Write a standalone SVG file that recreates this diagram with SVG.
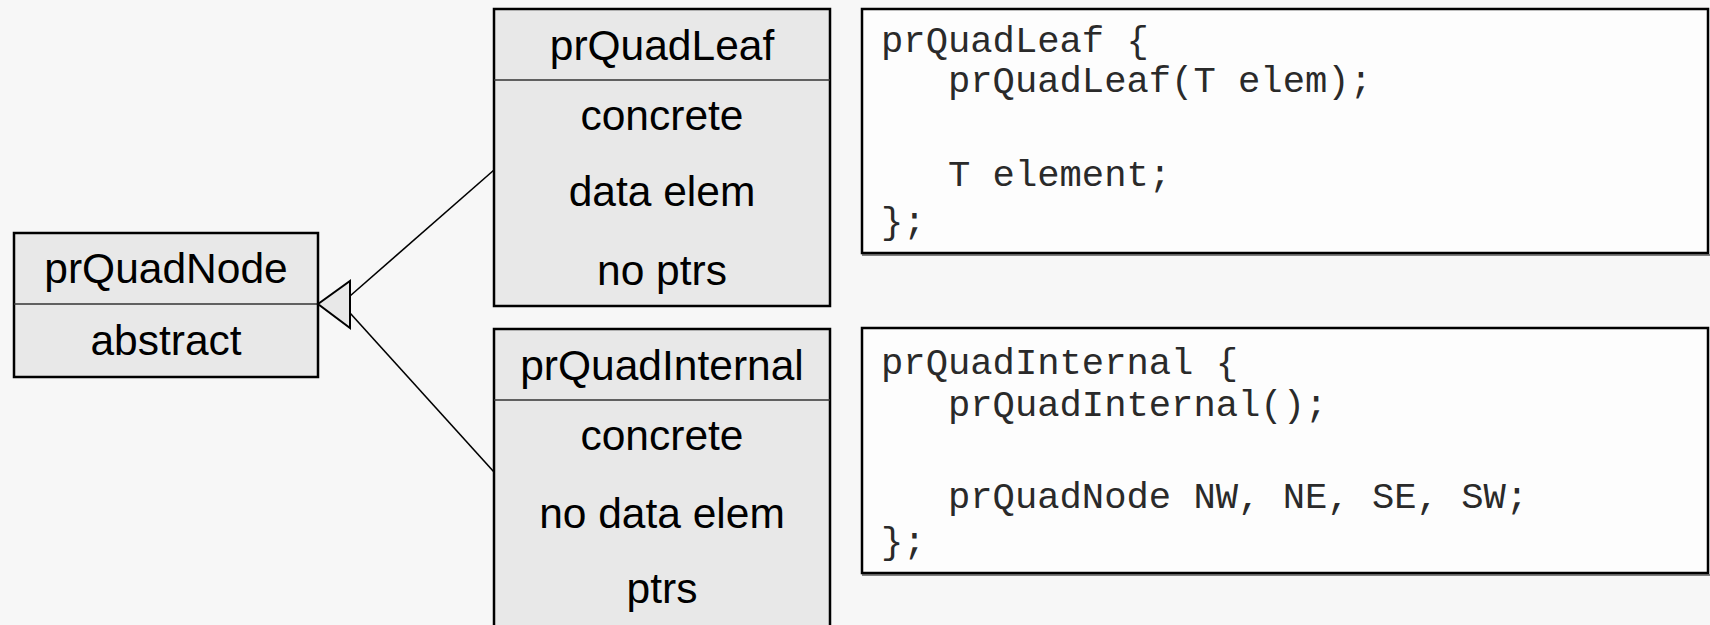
<svg xmlns="http://www.w3.org/2000/svg" width="1710" height="625" viewBox="0 0 1710 625">
<style>
.bg{fill:#f7f7f7}
.box{fill:#e8e8e8;stroke:#000;stroke-width:2.5}
.div{stroke:#333;stroke-width:1.5}
.code{fill:#fdfdfd;stroke:#000;stroke-width:2.5}
.shadow{stroke:#808080;stroke-width:2}
.lbl{font-family:"Liberation Sans",Arial,sans-serif;font-size:42.5px;fill:#000;text-anchor:middle}
.mono{font-family:"Liberation Mono","Courier New",monospace;font-size:37.2px;fill:#2a2a2a;white-space:pre}
.conn{stroke:#000;stroke-width:1.6;fill:none}
.tri{fill:#e8e8e8;stroke:#000;stroke-width:2}
</style>
<rect class="bg" x="0" y="0" width="1710" height="625"/>
<g id="prQuadNode">
<rect class="box" x="14" y="233" width="304" height="144"/>
<line class="div" x1="14" y1="304" x2="318" y2="304"/>
<text class="lbl" x="166" y="283">prQuadNode</text>
<text class="lbl" x="166" y="355">abstract</text>
</g>
<g id="prQuadLeaf">
<rect class="box" x="494" y="9" width="336" height="297"/>
<line class="div" x1="494" y1="80" x2="830" y2="80"/>
<text class="lbl" x="662" y="60">prQuadLeaf</text>
<text class="lbl" x="662" y="130">concrete</text>
<text class="lbl" x="662" y="206">data elem</text>
<text class="lbl" x="662" y="285">no ptrs</text>
</g>
<g id="prQuadInternal">
<rect class="box" x="494" y="329" width="336" height="320"/>
<line class="div" x1="494" y1="400" x2="830" y2="400"/>
<text class="lbl" x="662" y="380">prQuadInternal</text>
<text class="lbl" x="662" y="450">concrete</text>
<text class="lbl" x="662" y="528">no data elem</text>
<text class="lbl" x="662" y="603">ptrs</text>
</g>
<g id="codeLeaf">
<line class="shadow" x1="862" y1="255" x2="1710" y2="255"/>
<rect class="code" x="862" y="9" width="846" height="244"/>
<text class="mono" x="881" y="52">prQuadLeaf {</text>
<text class="mono" x="881" y="92">   prQuadLeaf(T elem);</text>
<text class="mono" x="881" y="186">   T element;</text>
<text class="mono" x="881" y="233">};</text>
</g>
<g id="codeInternal">
<line class="shadow" x1="862" y1="575" x2="1710" y2="575"/>
<rect class="code" x="862" y="328" width="846" height="245"/>
<text class="mono" x="881" y="374">prQuadInternal {</text>
<text class="mono" x="881" y="416">   prQuadInternal();</text>
<text class="mono" x="881" y="508">   prQuadNode NW, NE, SE, SW;</text>
<text class="mono" x="881" y="553">};</text>
</g>
<g id="connectors">
<line class="conn" x1="350" y1="296" x2="494" y2="170"/>
<line class="conn" x1="350" y1="313" x2="494" y2="472"/>
<polygon class="tri" points="318,304 350,281 350,328"/>
</g>
</svg>
